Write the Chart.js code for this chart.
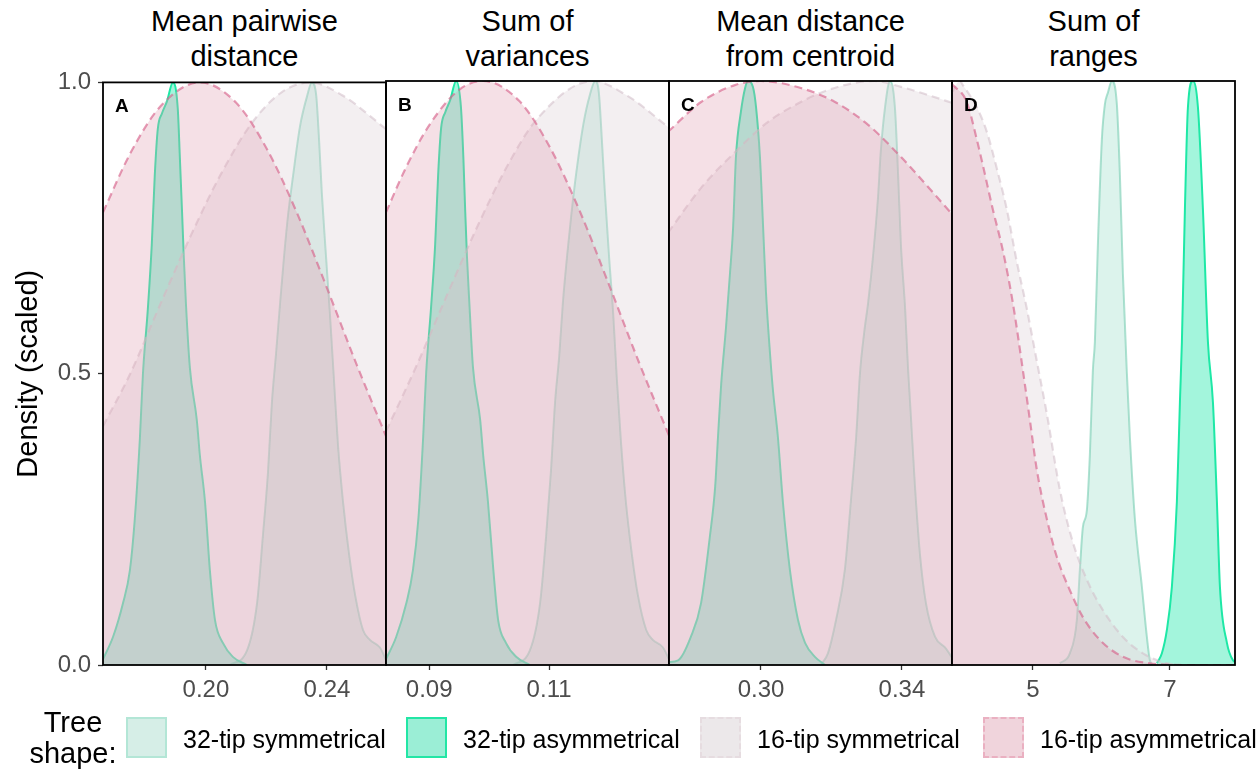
<!DOCTYPE html>
<html>
<head>
<meta charset="utf-8">
<script src="https://cdn.jsdelivr.net/npm/chart.js@4.4.0/dist/chart.umd.min.js"></script>
<style>
  body { margin: 0; background: #fff; font-family: "Liberation Sans", Arial, sans-serif; }
  #wrap { position: relative; width: 1260px; height: 769px; overflow: hidden; }
  canvas { position: absolute; }
  .strip { position: absolute; top: 4px; width: 283px; text-align: center; font-size: 29px; line-height: 35px; color: #000; }
  .legend-title { position: absolute; left: 26px; top: 707px; width: 94px; text-align: center; font-size: 29px; line-height: 31px; }
  .key { position: absolute; top: 717px; width: 41px; height: 41px; box-sizing: border-box; border-width: 2px; }
  .key-text { position: absolute; top: 724px; font-size: 25px; line-height: 30px; white-space: nowrap; }
</style>
</head>
<body>
<div id="wrap">
  <div class="strip" style="left:103px">Mean pairwise<br>distance</div>
  <div class="strip" style="left:386px">Sum of<br>variances</div>
  <div class="strip" style="left:669px">Mean distance<br>from centroid</div>
  <div class="strip" style="left:952px">Sum of<br>ranges</div>

  <canvas id="chartA" width="396" height="659" style="left:0px;top:61px"></canvas>
  <canvas id="chartB" width="303" height="659" style="left:376px;top:61px"></canvas>
  <canvas id="chartC" width="303" height="659" style="left:659px;top:61px"></canvas>
  <canvas id="chartD" width="303" height="659" style="left:942px;top:61px"></canvas>

  <div class="legend-title">Tree<br>shape:</div>
  <div class="key" style="left:126px;background:#d6eee7;border-style:solid;border-color:#b3e6d6"></div>
  <div class="key-text" style="left:183px">32-tip symmetrical</div>
  <div class="key" style="left:406px;background:#9beed6;border-style:solid;border-color:#22e6a5"></div>
  <div class="key-text" style="left:463px">32-tip asymmetrical</div>
  <div class="key" style="left:700px;background:#ece8ea;border-style:dashed;border-color:#e6dce0"></div>
  <div class="key-text" style="left:757px">16-tip symmetrical</div>
  <div class="key" style="left:983px;background:#f0d4dc;border-style:dashed;border-color:#eab0c1"></div>
  <div class="key-text" style="left:1040px">16-tip asymmetrical</div>
</div>

<script>
// scaled density curves, [x, density] pairs

// A - mean pairwise distance
const sym32A = [[0.2079,0],[0.2136,0.025],[0.2169,0.106],[0.2188,0.22],[0.2205,0.33],[0.2218,0.45],[0.2231,0.53],[0.2245,0.62],[0.2258,0.70],[0.2271,0.77],[0.2288,0.84],[0.2311,0.925],[0.2334,0.976],[0.2350,1],[0.2364,0.98],[0.2374,0.90],[0.2383,0.81],[0.2397,0.70],[0.2410,0.60],[0.2423,0.49],[0.2436,0.38],[0.2453,0.28],[0.2473,0.19],[0.2493,0.12],[0.2519,0.06],[0.2542,0.043],[0.2575,0.03],[0.2598,0.005]];
const asym32A = [[0.1660,0.01],[0.1693,0.048],[0.1726,0.106],[0.1749,0.163],[0.1765,0.25],[0.1782,0.39],[0.1792,0.50],[0.1808,0.61],[0.1821,0.72],[0.1831,0.84],[0.1841,0.92],[0.1855,0.947],[0.1871,0.967],[0.1891,1],[0.1907,0.955],[0.1914,0.87],[0.1921,0.78],[0.1927,0.70],[0.1934,0.62],[0.1947,0.51],[0.1970,0.42],[0.1980,0.36],[0.1997,0.28],[0.2013,0.163],[0.2030,0.077],[0.2056,0.038],[0.2089,0.014],[0.2136,0]];
const sym16A = [[0.166,0.41],[0.175,0.50],[0.185,0.62],[0.195,0.737],[0.205,0.843],[0.215,0.929],[0.225,0.983],[0.2344,1],[0.245,0.978],[0.2595,0.92]];
const asym16A = [[0.166,0.777],[0.175,0.878],[0.185,0.959],[0.198,1],[0.210,0.965],[0.220,0.887],[0.230,0.777],[0.240,0.647],[0.250,0.513],[0.2595,0.393]];

// B - sum of variances
const sym32B = [[0.1040,0],[0.1068,0.025],[0.1085,0.106],[0.1095,0.22],[0.1103,0.33],[0.1110,0.45],[0.1117,0.53],[0.1123,0.62],[0.1130,0.70],[0.1137,0.77],[0.1145,0.84],[0.1157,0.925],[0.1168,0.976],[0.1177,1],[0.1183,0.98],[0.1188,0.90],[0.1193,0.81],[0.1200,0.70],[0.1207,0.60],[0.1213,0.49],[0.1220,0.38],[0.1228,0.28],[0.1238,0.19],[0.1248,0.12],[0.1262,0.06],[0.1273,0.043],[0.1290,0.03],[0.1302,0.005]];
const asym32B = [[0.0828,0.01],[0.0845,0.048],[0.0862,0.106],[0.0873,0.163],[0.0882,0.25],[0.0890,0.39],[0.0895,0.50],[0.0903,0.61],[0.0910,0.72],[0.0915,0.84],[0.0920,0.92],[0.0927,0.947],[0.0935,0.967],[0.0945,1],[0.0953,0.955],[0.0957,0.87],[0.0960,0.78],[0.0963,0.70],[0.0967,0.62],[0.0973,0.51],[0.0985,0.42],[0.0990,0.36],[0.0998,0.28],[0.1007,0.163],[0.1015,0.077],[0.1028,0.038],[0.1045,0.014],[0.1068,0]];
const sym16B = [[0.0828,0.40],[0.088,0.515],[0.093,0.634],[0.098,0.75],[0.103,0.854],[0.108,0.935],[0.1173,1],[0.123,0.975],[0.130,0.92]];
const asym16B = [[0.0828,0.775],[0.086,0.849],[0.090,0.924],[0.095,0.985],[0.099,1],[0.105,0.966],[0.110,0.889],[0.115,0.78],[0.120,0.651],[0.125,0.518],[0.130,0.393]];

// C - mean distance from centroid
const sym32C = [[0.3170,0],[0.3190,0.02],[0.3213,0.077],[0.3238,0.163],[0.3255,0.28],[0.3270,0.39],[0.3281,0.50],[0.3293,0.57],[0.3304,0.62],[0.3318,0.70],[0.3332,0.80],[0.3340,0.88],[0.3352,0.955],[0.3366,1],[0.3380,0.955],[0.3389,0.84],[0.3397,0.72],[0.3409,0.61],[0.3417,0.51],[0.3423,0.45],[0.3437,0.305],[0.3451,0.19],[0.3468,0.106],[0.3494,0.048],[0.3522,0.03],[0.3545,0.01]];
const asym32C = [[0.2736,0.005],[0.2765,0.008],[0.2801,0.048],[0.2830,0.106],[0.2855,0.22],[0.2870,0.305],[0.2878,0.39],[0.2887,0.48],[0.2901,0.58],[0.2912,0.67],[0.2921,0.75],[0.2929,0.87],[0.2943,0.947],[0.2955,0.988],[0.2963,1],[0.2977,0.99],[0.2986,0.955],[0.2997,0.87],[0.3006,0.75],[0.3014,0.64],[0.3026,0.53],[0.3034,0.47],[0.3048,0.39],[0.3062,0.28],[0.3082,0.163],[0.3105,0.077],[0.3125,0.038],[0.3153,0.014],[0.3182,0]];
const sym16C = [[0.2736,0.74],[0.2830,0.817],[0.2926,0.878],[0.3020,0.93],[0.3113,0.964],[0.3170,0.98],[0.3267,0.997],[0.3323,1],[0.3397,0.99],[0.3479,0.975],[0.3545,0.962]];
const asym16C = [[0.2736,0.913],[0.2830,0.964],[0.2926,0.993],[0.3000,1],[0.3113,0.988],[0.3210,0.964],[0.3304,0.925],[0.3397,0.87],[0.3494,0.805],[0.3545,0.77]];

// D - sum of ranges
const sym32D = [[5.394,0.003],[5.540,0.02],[5.642,0.077],[5.686,0.163],[5.730,0.236],[5.788,0.265],[5.832,0.36],[5.876,0.505],[5.905,0.553],[5.949,0.72],[6.007,0.9],[6.051,0.96],[6.095,0.98],[6.153,1],[6.226,0.96],[6.270,0.84],[6.314,0.67],[6.372,0.50],[6.416,0.39],[6.489,0.25],[6.591,0.134],[6.664,0.048],[6.708,0.008],[6.752,0]];
const asym32D = [[6.810,0.003],[6.883,0.02],[6.956,0.06],[7.029,0.134],[7.102,0.28],[7.146,0.45],[7.175,0.553],[7.219,0.78],[7.263,0.955],[7.336,1],[7.409,0.955],[7.482,0.78],[7.555,0.553],[7.628,0.45],[7.686,0.28],[7.730,0.134],[7.832,0.038],[7.920,0.008],[7.96,0.005]];
const sym16D = [[3.817,0.98],[3.934,1],[3.978,0.993],[4.182,0.955],[4.328,0.913],[4.474,0.85],[4.620,0.78],[4.766,0.69],[4.912,0.61],[5.058,0.52],[5.204,0.43],[5.394,0.30],[5.584,0.21],[5.788,0.146],[6.022,0.094],[6.314,0.048],[6.606,0.02],[6.956,0.003],[7.29,0],[7.96,0]];
const asym16D = [[3.817,0.995],[4.036,0.964],[4.182,0.9],[4.270,0.856],[4.416,0.78],[4.562,0.71],[4.708,0.62],[4.854,0.505],[4.956,0.42],[5.058,0.334],[5.204,0.25],[5.350,0.185],[5.540,0.128],[5.730,0.082],[5.978,0.043],[6.314,0.014],[6.708,0.003],[7.190,0],[7.96,0]];

// axes
const xRangeA = [0.166, 0.2595];
const xRangeB = [0.0828, 0.130];
const xRangeC = [0.2739, 0.3542];
const xRangeD = [3.82, 7.95];
const xTicksA = [0.20, 0.24];
const xTicksB = [0.09, 0.11];
const xTicksC = [0.30, 0.34];
const xTicksD = [5, 7];
const xLabelsA = ['0.20', '0.24'];
const xLabelsB = ['0.09', '0.11'];
const xLabelsC = ['0.30', '0.34'];
const xLabelsD = ['5', '7'];
const yTicks = [0, 0.5, 1];
const yLabels = ['0.0', '0.5', '1.0'];

const seriesNames = ['32-tip symmetrical', '32-tip asymmetrical', '16-tip symmetrical', '16-tip asymmetrical'];

const FONT = '"Liberation Sans", Arial, sans-serif';

// one style per series, same order as seriesNames
const seriesStyles = [
    { line: 'rgba(120,205,178,0.6)', fill: 'rgba(149,219,197,0.33)', dash: [] },
    { line: 'rgb(30,232,166)',       fill: 'rgba(25,230,167,0.4)',   dash: [] },
    { line: 'rgba(210,190,200,0.55)', fill: 'rgba(219,207,213,0.33)', dash: [8, 5] },
    { line: 'rgba(215,100,140,0.65)', fill: 'rgba(226,160,178,0.33)', dash: [8, 5] }
];

// frame round the panel plus the panel letter
const panelFrame = {
    id: 'panelFrame',
    afterDatasetsDraw(chart, args, opts) {
        const ctx = chart.ctx;
        const a = chart.chartArea;
        ctx.save();
        ctx.strokeStyle = '#000';
        ctx.lineWidth = 1.8;
        ctx.strokeRect(a.left, a.top, a.right - a.left, a.bottom - a.top);
        ctx.fillStyle = '#000';
        ctx.font = 'bold 19px ' + FONT;
        ctx.textBaseline = 'alphabetic';
        ctx.fillText(opts.letter, a.left + 12, a.top + 30);
        ctx.restore();
    }
};

const panels = [
    { id: 'chartA', letter: 'A', range: xRangeA, ticks: xTicksA, labels: xLabelsA, curves: [sym32A, asym32A, sym16A, asym16A], yAxis: true },
    { id: 'chartB', letter: 'B', range: xRangeB, ticks: xTicksB, labels: xLabelsB, curves: [sym32B, asym32B, sym16B, asym16B], yAxis: false },
    { id: 'chartC', letter: 'C', range: xRangeC, ticks: xTicksC, labels: xLabelsC, curves: [sym32C, asym32C, sym16C, asym16C], yAxis: false },
    { id: 'chartD', letter: 'D', range: xRangeD, ticks: xTicksD, labels: xLabelsD, curves: [sym32D, asym32D, sym16D, asym16D], yAxis: false }
];

panels.forEach(function (p) {
    const datasets = p.curves.map(function (curve, i) {
        const st = seriesStyles[i];
        return {
            label: seriesNames[i],
            data: curve.map(pt => ({ x: pt[0], y: pt[1] })),
            borderColor: st.line,
            backgroundColor: st.fill,
            borderWidth: i > 1 ? 2.2 : 2,
            borderDash: st.dash,
            fill: 'origin',
            pointRadius: 0,
            cubicInterpolationMode: 'monotone',
            order: 3 - i   // 16-tip asymmetrical ends up on top
        };
    });

    new Chart(document.getElementById(p.id), {
        type: 'line',
        data: { datasets: datasets },
        options: {
            responsive: false,
            animation: false,
            layout: {
                autoPadding: false,
                padding: { top: 20, right: 10, bottom: 0, left: p.yAxis ? 0 : 10 }
            },
            plugins: {
                legend: { display: false },
                tooltip: { enabled: false },
                panelFrame: { letter: p.letter }
            },
            scales: {
                x: {
                    type: 'linear',
                    min: p.range[0],
                    max: p.range[1],
                    afterBuildTicks: s => { s.ticks = p.ticks.map(v => ({ value: v })); },
                    afterFit: s => { s.height = 55; },
                    ticks: {
                        callback: (v, i) => p.labels[i],
                        color: '#4d4d4d',
                        font: { size: 24, family: FONT },
                        padding: 6,
                        maxRotation: 0,
                        autoSkip: false
                    },
                    grid: { drawOnChartArea: false, drawTicks: true, tickLength: 5, tickColor: '#333', tickWidth: 1.3 },
                    border: { display: false }
                },
                y: {
                    display: p.yAxis,
                    min: 0,
                    max: 1,
                    afterBuildTicks: s => { s.ticks = yTicks.map(v => ({ value: v })); },
                    afterFit: s => { s.width = p.yAxis ? 103 : 0; },
                    ticks: {
                        callback: (v, i) => yLabels[i],
                        color: '#4d4d4d',
                        font: { size: 24, family: FONT },
                        padding: 7
                    },
                    grid: { drawOnChartArea: false, drawTicks: true, tickLength: 5, tickColor: '#333', tickWidth: 1.3 },
                    border: { display: false },
                    title: {
                        display: true,
                        text: 'Density (scaled)',
                        color: '#000',
                        font: { size: 29, family: FONT },
                        padding: { top: 12, bottom: 0 }
                    }
                }
            }
        },
        plugins: [panelFrame]
    });
});
</script>
</body>
</html>
